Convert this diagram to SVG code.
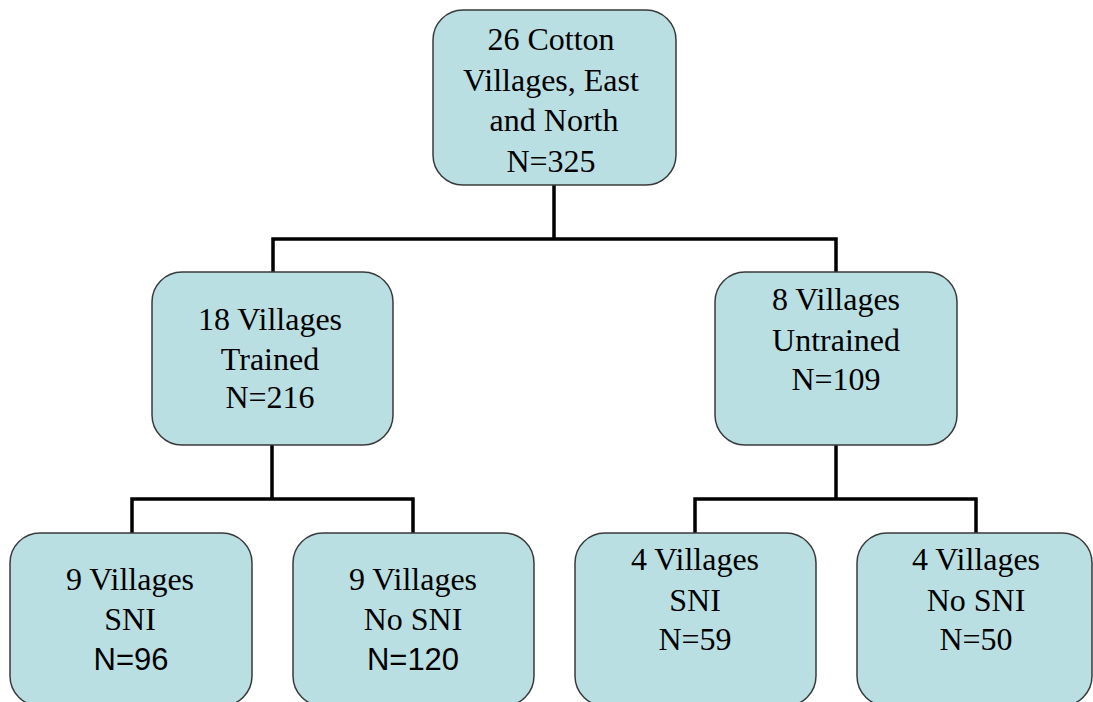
<svg xmlns="http://www.w3.org/2000/svg" width="1093" height="702" viewBox="0 0 1093 702">
<style>
.box{fill:#B9DFE3;stroke:#3a3a3a;stroke-width:1.5}
.t{font-family:"Liberation Serif","Times New Roman",serif;font-size:32px;fill:#000;text-anchor:middle}
.s{font-family:"Liberation Sans",Arial,sans-serif;font-size:31px;fill:#000;text-anchor:middle}
.c{fill:none;stroke:#000;stroke-width:3.5;stroke-linejoin:miter}
</style>
<rect width="1093" height="702" fill="#fff"/>
<g id="connectors">
<path class="c" d="M554,185 V239 M273,272 V239 H836 V272"/>
<path class="c" d="M272,445 V499 M132,533 V499 H413 V533"/>
<path class="c" d="M836,445 V499 M695,533 V499 H976 V533"/>
</g>
<g id="root">
<rect class="box" x="433" y="10" width="243" height="175" rx="30"/>
<text class="t" x="551" y="50">26 Cotton</text>
<text class="t" x="551" y="91">Villages, East</text>
<text class="t" x="554" y="131">and North</text>
<text class="t" x="551" y="172">N=325</text>
</g>
<g id="trained">
<rect class="box" x="152" y="272" width="241" height="173" rx="30"/>
<text class="t" x="270" y="330">18 Villages</text>
<text class="t" x="270" y="370">Trained</text>
<text class="t" x="270" y="408">N=216</text>
</g>
<g id="untrained">
<rect class="box" x="715" y="272" width="242" height="173" rx="30"/>
<text class="t" x="836" y="310">8 Villages</text>
<text class="t" x="836" y="351">Untrained</text>
<text class="t" x="836" y="390">N=109</text>
</g>
<g id="trained-sni">
<rect class="box" x="10" y="533" width="242" height="173" rx="30"/>
<text class="t" x="130" y="590">9 Villages</text>
<text class="t" x="130" y="630">SNI</text>
<text class="s" x="131" y="670">N=96</text>
</g>
<g id="trained-nosni">
<rect class="box" x="293" y="533" width="241" height="173" rx="30"/>
<text class="t" x="413" y="590">9 Villages</text>
<text class="t" x="413" y="630">No SNI</text>
<text class="s" x="413" y="670">N=120</text>
</g>
<g id="untrained-sni">
<rect class="box" x="575" y="533" width="241" height="173" rx="30"/>
<text class="t" x="695" y="570">4 Villages</text>
<text class="t" x="695" y="611">SNI</text>
<text class="t" x="695" y="650">N=59</text>
</g>
<g id="untrained-nosni">
<rect class="box" x="857" y="533" width="235" height="173" rx="30"/>
<text class="t" x="976" y="570">4 Villages</text>
<text class="t" x="976" y="611">No SNI</text>
<text class="t" x="976" y="650">N=50</text>
</g>
</svg>
